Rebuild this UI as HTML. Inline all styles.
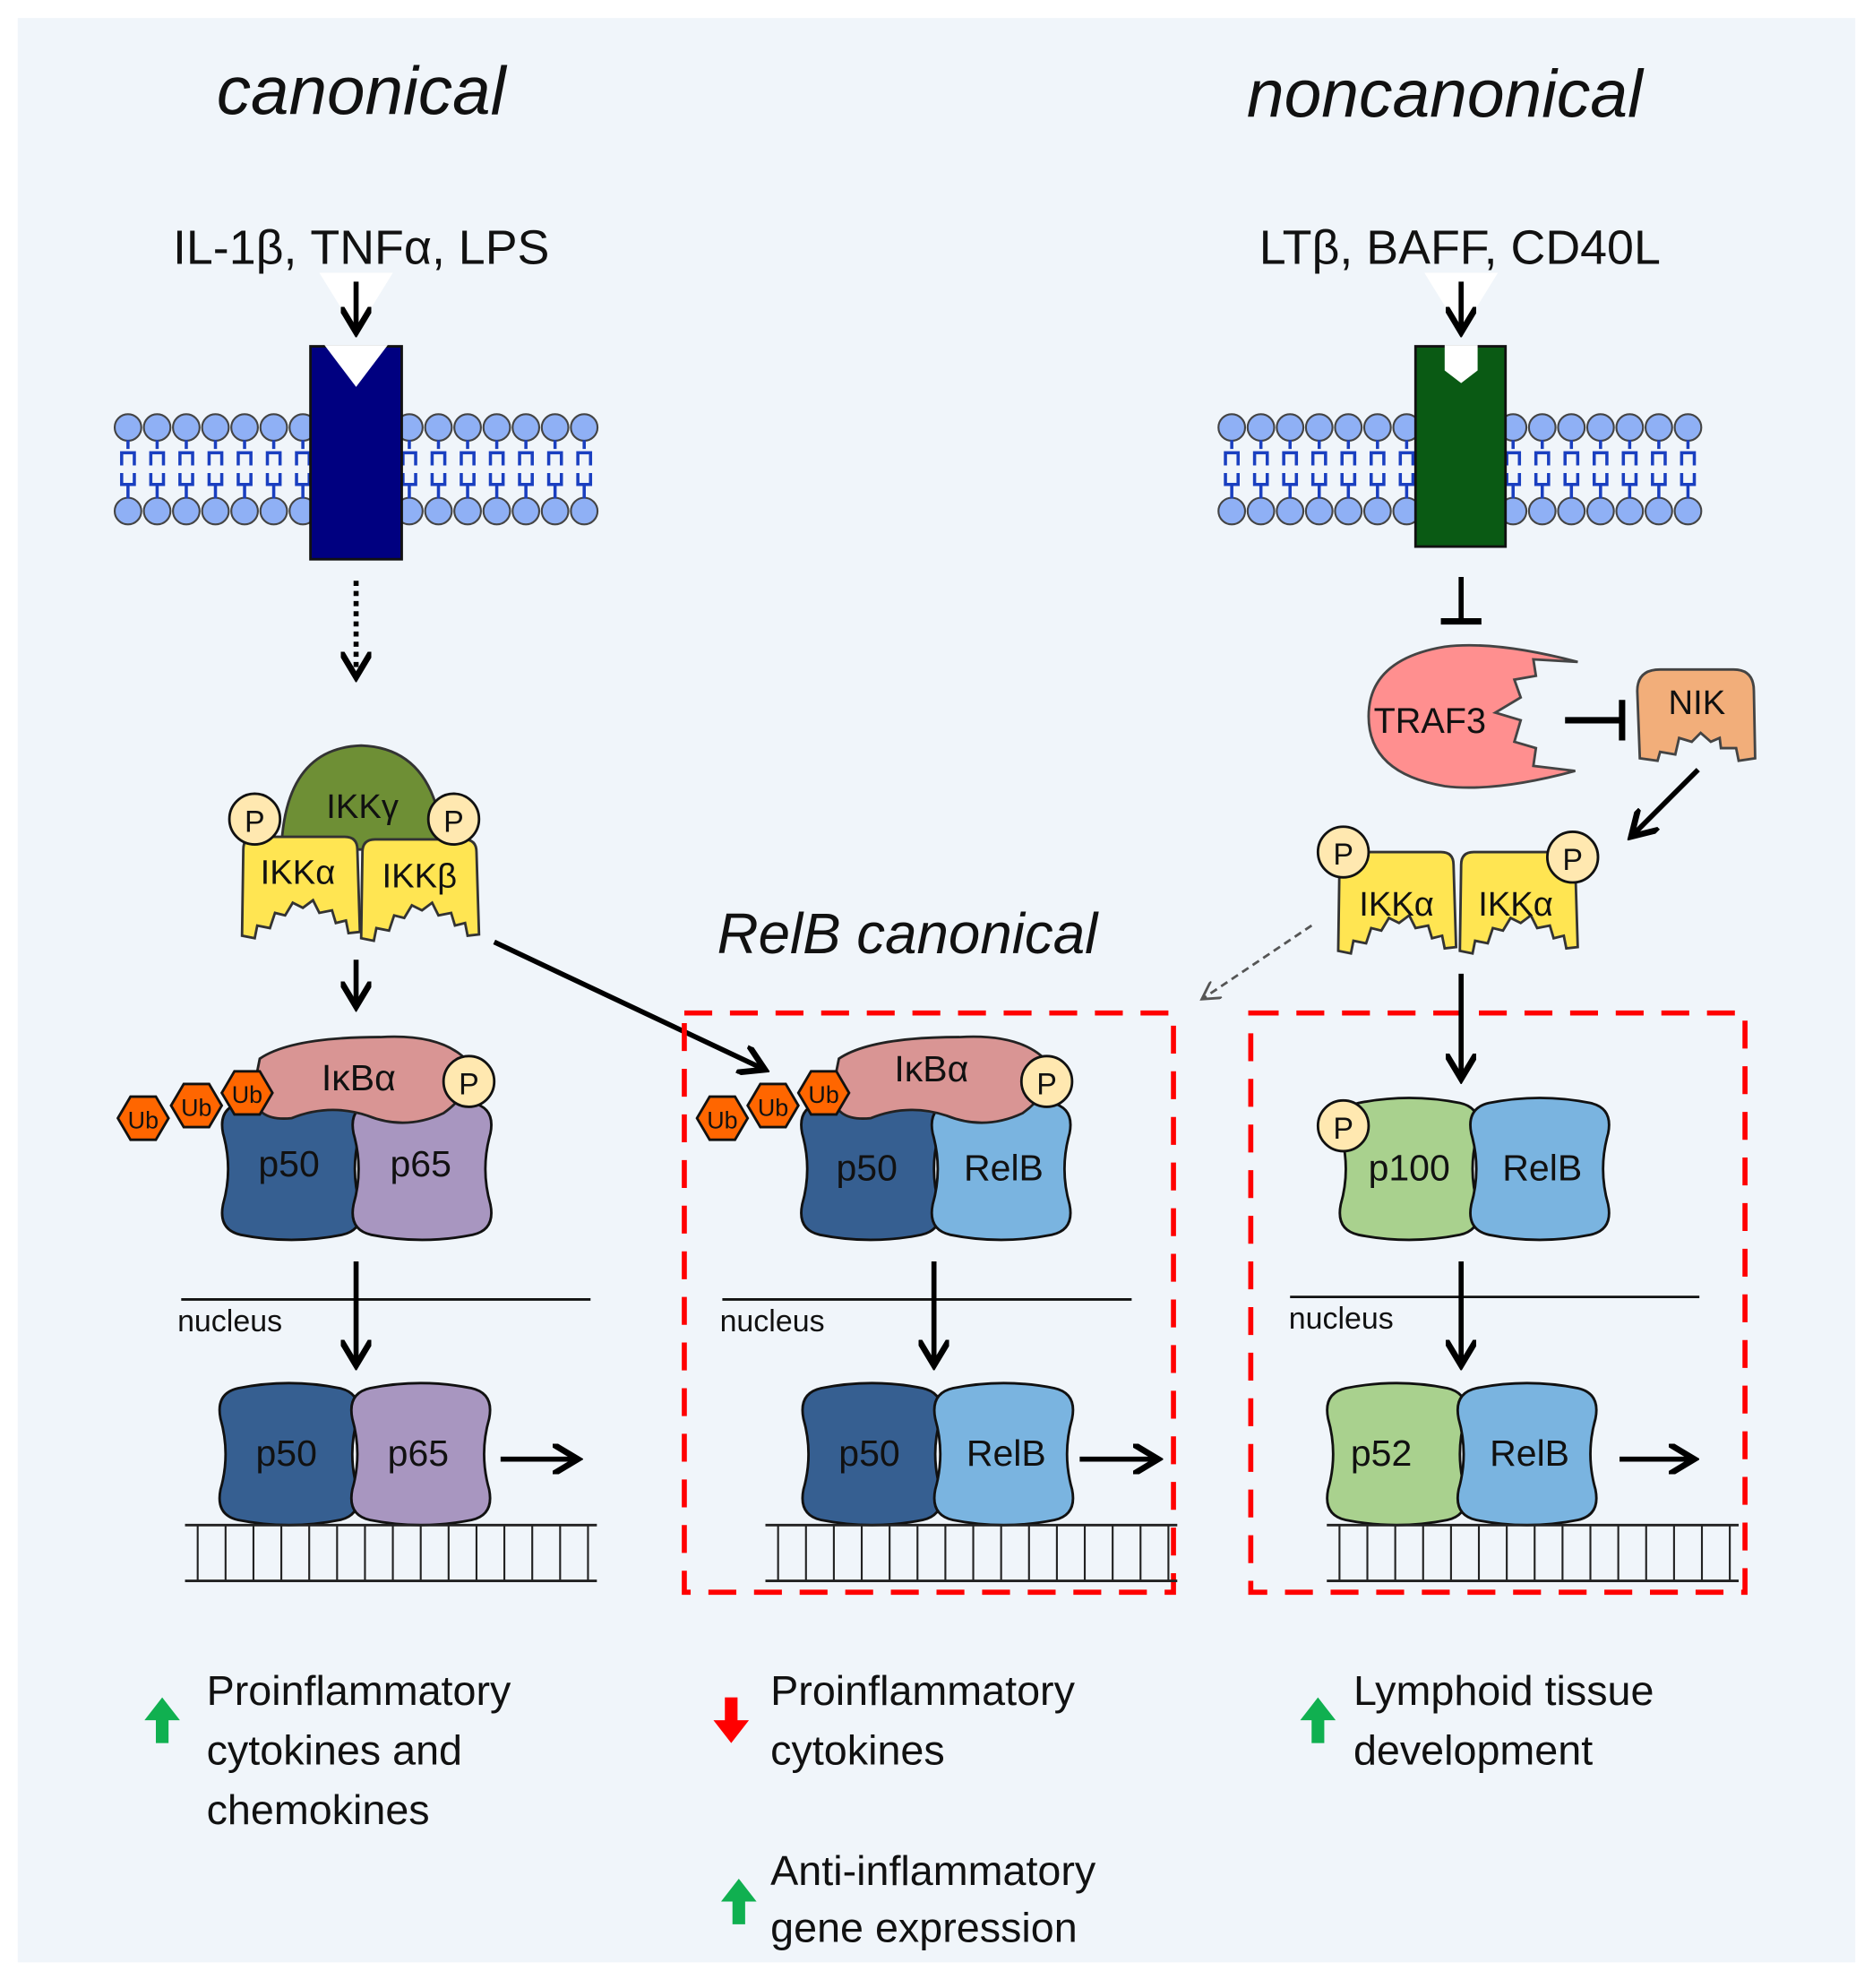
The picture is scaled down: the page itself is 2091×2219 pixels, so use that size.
<!DOCTYPE html>
<html><head><meta charset="utf-8"><style>
html,body{margin:0;padding:0;background:#fff}
svg{display:block}
text{font-family:"Liberation Sans","DejaVu Sans",sans-serif;fill:#111}
</style></head><body>
<svg width="2091" height="2219" viewBox="0 0 1478 1568" xmlns="http://www.w3.org/2000/svg">
<defs>
<marker id="ah" markerWidth="6" markerHeight="6" refX="4" refY="3" orient="auto" markerUnits="strokeWidth"><path d="M0,0 L5,3 L0,6" fill="none" stroke="#000" stroke-width="1.2"/></marker>
<marker id="ahs" markerWidth="8" markerHeight="8" refX="6" refY="4" orient="auto" markerUnits="strokeWidth"><path d="M0,0 L7,4 L0,8" fill="none" stroke="#555" stroke-width="1"/></marker>
<g id="lipid">
 <circle cx="0" cy="0" r="10.5" fill="#8fb0f5" stroke="#444" stroke-width="1.5"/>
 <circle cx="0" cy="66" r="10.5" fill="#8fb0f5" stroke="#444" stroke-width="1.5"/>
 <path d="M0,10 V17 M-5,30 V20 H5 V30 M-5,36 V45 H5 V36 M0,45 V56" stroke="#1a3fc0" stroke-width="2.5" fill="none"/>
</g>
<path id="lobe" d="M-40,-52 Q0,-60 40,-52 Q58,-48 54,-28 Q46,0 54,28 Q58,48 40,52 Q0,60 -40,52 Q-58,48 -54,28 Q-46,0 -54,-28 Q-58,-48 -40,-52 Z" stroke="#111" stroke-width="2"/>
<path id="ikk" d="M-45,-30 Q-45,-40 -35,-40 L35,-40 Q45,-40 45,-30 L47,35 L38,36 L36,26 L28,28 L25,18 L15,20 L10,10 L2,16 L-6,12 L-12,22 L-20,20 L-24,32 L-34,30 L-36,40 L-46,38 Z" fill="#ffe552" stroke="#333" stroke-width="2"/>
<path id="hex" d="M-20,0 L-10,-17 L10,-17 L20,0 L10,17 L-10,17 Z" fill="#ff6600" stroke="#111" stroke-width="2"/>
<circle id="pc" r="20" fill="#ffe8b0" stroke="#111" stroke-width="2"/>
<g id="dna">
 <path d="M0,0 H325 M0,44 H325" stroke="#222" stroke-width="2"/>
 <path d="M10,0 V44 M32,0 V44 M54,0 V44 M76,0 V44 M98,0 V44 M120,0 V44 M142,0 V44 M164,0 V44 M186,0 V44 M208,0 V44 M230,0 V44 M252,0 V44 M274,0 V44 M296,0 V44 M318,0 V44" stroke="#222" stroke-width="1.5"/>
</g>
<path id="up" d="M0,-18 L-14,0 L-5,0 L-5,18 L5,18 L5,0 L14,0 Z" fill="#10b050"/>
</defs>

<rect width="1478" height="1568" fill="#fff"/>
<rect x="14" y="14" width="1450" height="1534" fill="#f0f5fa"/>

<text x="285" y="90" font-size="54" font-style="italic" text-anchor="middle">canonical</text>
<text x="1140" y="92" font-size="53" font-style="italic" text-anchor="middle">noncanonical</text>
<text x="716" y="752" font-size="45" font-style="italic" text-anchor="middle">RelB canonical</text>
<text x="285" y="208" font-size="38" text-anchor="middle">IL-1β, TNFα, LPS</text>
<text x="1152" y="208" font-size="38" text-anchor="middle">LTβ, BAFF, CD40L</text>

<g>
<use href="#lipid" x="101" y="337"/><use href="#lipid" x="124" y="337"/><use href="#lipid" x="147" y="337"/><use href="#lipid" x="170" y="337"/><use href="#lipid" x="193" y="337"/><use href="#lipid" x="216" y="337"/><use href="#lipid" x="239" y="337"/>
<use href="#lipid" x="323" y="337"/><use href="#lipid" x="346" y="337"/><use href="#lipid" x="369" y="337"/><use href="#lipid" x="392" y="337"/><use href="#lipid" x="415" y="337"/><use href="#lipid" x="438" y="337"/><use href="#lipid" x="461" y="337"/>
<use href="#lipid" x="972" y="337"/><use href="#lipid" x="995" y="337"/><use href="#lipid" x="1018" y="337"/><use href="#lipid" x="1041" y="337"/><use href="#lipid" x="1064" y="337"/><use href="#lipid" x="1087" y="337"/><use href="#lipid" x="1110" y="337"/>
<use href="#lipid" x="1194" y="337"/><use href="#lipid" x="1217" y="337"/><use href="#lipid" x="1240" y="337"/><use href="#lipid" x="1263" y="337"/><use href="#lipid" x="1286" y="337"/><use href="#lipid" x="1309" y="337"/><use href="#lipid" x="1332" y="337"/>
</g>
<rect x="245" y="273" width="72" height="168" fill="#000080" stroke="#111" stroke-width="2"/>
<path d="M256,272 L306,272 L281,305 Z" fill="#fff"/>
<path d="M252,215 L310,215 L281,262 Z" fill="#fff"/>
<rect x="1117" y="273" width="71" height="158" fill="#0a5a14" stroke="#111" stroke-width="2"/>
<path d="M1140,272 L1166,272 L1166,292 L1153,302 L1140,292 Z" fill="#fff"/>
<path d="M1124,215 L1182,215 L1153,262 Z" fill="#fff"/>
<line x1="281" y1="222" x2="281" y2="258" stroke="#000" stroke-width="4" marker-end="url(#ah)"/>
<line x1="1153" y1="222" x2="1153" y2="258" stroke="#000" stroke-width="4" marker-end="url(#ah)"/>
<line x1="281" y1="458" x2="281" y2="530" stroke="#000" stroke-width="4" stroke-dasharray="4,4" marker-end="url(#ah)"/>

<path d="M222,670 Q225,590 285,588 Q345,590 350,670 Z" fill="#6e8f35" stroke="#333" stroke-width="2"/>
<text x="286" y="645" font-size="27" text-anchor="middle">IKKγ</text>
<use href="#ikk" x="237" y="700"/><use href="#ikk" x="331" y="702"/>
<text x="235" y="697" font-size="27" text-anchor="middle">IKKα</text>
<text x="331" y="700" font-size="27" text-anchor="middle">IKKβ</text>
<use href="#pc" x="201" y="646"/><text x="201" y="656" font-size="24" text-anchor="middle">P</text>
<use href="#pc" x="358" y="646"/><text x="358" y="656" font-size="24" text-anchor="middle">P</text>
<line x1="281" y1="757" x2="281" y2="790" stroke="#000" stroke-width="4" marker-end="url(#ah)"/>
<line x1="390" y1="743" x2="600" y2="842" stroke="#000" stroke-width="4" marker-end="url(#ah)"/>

<use href="#lobe" x="230" y="922" fill="#365f91"/>
<use href="#lobe" x="333" y="922" fill="#a896c0"/>
<path d="M205,835 Q230,818 300,818 Q350,815 370,838 Q375,860 350,878 Q320,892 290,880 Q260,870 230,882 Q200,885 200,860 Z" fill="#d99594" stroke="#222" stroke-width="2"/>
<text x="283" y="860" font-size="29" text-anchor="middle">IκBα</text>
<use href="#pc" x="370" y="853"/><text x="370" y="863" font-size="24" text-anchor="middle">P</text>
<use href="#hex" x="113" y="882"/><use href="#hex" x="155" y="872"/><use href="#hex" x="195" y="862"/>
<text x="113" y="890" font-size="19" text-anchor="middle">Ub</text><text x="155" y="880" font-size="19" text-anchor="middle">Ub</text><text x="195" y="870" font-size="19" text-anchor="middle">Ub</text>
<text x="228" y="928" font-size="29" text-anchor="middle">p50</text>
<text x="332" y="928" font-size="29" text-anchor="middle">p65</text>
<line x1="143" y1="1025" x2="466" y2="1025" stroke="#111" stroke-width="2"/>
<text x="140" y="1050" font-size="24">nucleus</text>
<line x1="281" y1="995" x2="281" y2="1073" stroke="#000" stroke-width="4" marker-end="url(#ah)"/>
<use href="#lobe" x="228" y="1147" fill="#365f91"/>
<use href="#lobe" x="332" y="1147" fill="#a896c0"/>
<text x="226" y="1156" font-size="29" text-anchor="middle">p50</text>
<text x="330" y="1156" font-size="29" text-anchor="middle">p65</text>
<line x1="395" y1="1151" x2="452" y2="1151" stroke="#000" stroke-width="4" marker-end="url(#ah)"/>
<use href="#dna" x="146" y="1203"/>

<rect x="540" y="799" width="386" height="457" fill="none" stroke="#f00" stroke-width="4" stroke-dasharray="22,14"/>
<use href="#lobe" x="687" y="922" fill="#365f91"/>
<use href="#lobe" x="790" y="922" fill="#7ab4e0"/>
<path d="M662,835 Q687,818 757,818 Q807,815 827,838 Q832,860 807,878 Q777,892 747,880 Q717,870 687,882 Q657,885 657,860 Z" fill="#d99594" stroke="#222" stroke-width="2"/>
<text x="735" y="853" font-size="29" text-anchor="middle">IκBα</text>
<use href="#pc" x="826" y="853"/><text x="826" y="863" font-size="24" text-anchor="middle">P</text>
<use href="#hex" x="570" y="882"/><use href="#hex" x="610" y="872"/><use href="#hex" x="650" y="862"/>
<text x="570" y="890" font-size="19" text-anchor="middle">Ub</text><text x="610" y="880" font-size="19" text-anchor="middle">Ub</text><text x="650" y="870" font-size="19" text-anchor="middle">Ub</text>
<text x="684" y="931" font-size="29" text-anchor="middle">p50</text>
<text x="792" y="931" font-size="29" text-anchor="middle">RelB</text>
<line x1="570" y1="1025" x2="893" y2="1025" stroke="#111" stroke-width="2"/>
<text x="568" y="1050" font-size="24">nucleus</text>
<line x1="737" y1="995" x2="737" y2="1073" stroke="#000" stroke-width="4" marker-end="url(#ah)"/>
<use href="#lobe" x="688" y="1147" fill="#365f91"/>
<use href="#lobe" x="792" y="1147" fill="#7ab4e0"/>
<text x="686" y="1156" font-size="29" text-anchor="middle">p50</text>
<text x="794" y="1156" font-size="29" text-anchor="middle">RelB</text>
<line x1="852" y1="1151" x2="910" y2="1151" stroke="#000" stroke-width="4" marker-end="url(#ah)"/>
<use href="#dna" x="604" y="1203"/>

<line x1="1153" y1="455" x2="1153" y2="490" stroke="#000" stroke-width="4"/>
<line x1="1137" y1="490" x2="1169" y2="490" stroke="#000" stroke-width="5"/>
<path d="M1245,522 Q1180,505 1140,510 Q1080,520 1080,565 Q1080,610 1140,620 Q1180,625 1243,608 L1210,604 L1212,590 L1195,585 L1200,568 L1180,562 L1200,550 L1195,536 L1212,533 L1210,520 Z" fill="#ff8f8f" stroke="#444" stroke-width="2"/>
<text x="1084" y="578" font-size="28">TRAF3</text>
<line x1="1235" y1="568" x2="1278" y2="568" stroke="#000" stroke-width="5"/>
<line x1="1280" y1="552" x2="1280" y2="584" stroke="#000" stroke-width="5"/>
<path d="M1292,545 Q1292,528 1310,528 L1368,528 Q1384,528 1384,545 L1385,598 L1372,600 L1370,590 L1358,590 L1357,582 L1350,585 L1342,578 L1335,585 L1325,582 L1322,595 L1310,593 L1308,600 L1294,598 Z" fill="#f2ae7a" stroke="#444" stroke-width="2"/>
<text x="1339" y="563" font-size="27" text-anchor="middle">NIK</text>
<line x1="1340" y1="607" x2="1290" y2="657" stroke="#000" stroke-width="4" marker-end="url(#ah)"/>
<use href="#ikk" x="1102" y="712"/><use href="#ikk" x="1198" y="712"/>
<text x="1102" y="722" font-size="27" text-anchor="middle">IKKα</text>
<text x="1196" y="722" font-size="27" text-anchor="middle">IKKα</text>
<use href="#pc" x="1060" y="672"/><text x="1060" y="682" font-size="24" text-anchor="middle">P</text>
<use href="#pc" x="1241" y="676"/><text x="1241" y="686" font-size="24" text-anchor="middle">P</text>
<line x1="1035" y1="730" x2="950" y2="787" stroke="#555" stroke-width="2" stroke-dasharray="6,4" marker-end="url(#ahs)"/>
<rect x="987" y="799" width="390" height="457" fill="none" stroke="#f00" stroke-width="4" stroke-dasharray="22,14"/>
<line x1="1153" y1="768" x2="1153" y2="847" stroke="#000" stroke-width="4" marker-end="url(#ah)"/>
<use href="#lobe" x="1112" y="922" fill="#a9d18e"/>
<use href="#lobe" x="1215" y="922" fill="#7ab4e0"/>
<use href="#pc" x="1060" y="888"/><text x="1060" y="898" font-size="24" text-anchor="middle">P</text>
<text x="1112" y="931" font-size="29" text-anchor="middle">p100</text>
<text x="1217" y="931" font-size="29" text-anchor="middle">RelB</text>
<line x1="1018" y1="1023" x2="1341" y2="1023" stroke="#111" stroke-width="2"/>
<text x="1017" y="1048" font-size="24">nucleus</text>
<line x1="1153" y1="995" x2="1153" y2="1073" stroke="#000" stroke-width="4" marker-end="url(#ah)"/>
<use href="#lobe" x="1102" y="1147" fill="#a9d18e"/>
<use href="#lobe" x="1205" y="1147" fill="#7ab4e0"/>
<text x="1090" y="1156" font-size="29" text-anchor="middle">p52</text>
<text x="1207" y="1156" font-size="29" text-anchor="middle">RelB</text>
<line x1="1278" y1="1151" x2="1333" y2="1151" stroke="#000" stroke-width="4" marker-end="url(#ah)"/>
<use href="#dna" x="1047" y="1203"/>

<use href="#up" x="128" y="1357"/>
<text font-size="33" x="163" y="1345">Proinflammatory</text>
<text font-size="33" x="163" y="1392">cytokines and</text>
<text font-size="33" x="163" y="1439">chemokines</text>
<path d="M577,1375 L563,1357 L572,1357 L572,1339 L582,1339 L582,1357 L591,1357 Z" fill="#f00"/>
<text font-size="33" x="608" y="1345">Proinflammatory</text>
<text font-size="33" x="608" y="1392">cytokines</text>
<use href="#up" x="583" y="1500"/>
<text font-size="33" x="608" y="1487">Anti-inflammatory</text>
<text font-size="33" x="608" y="1532">gene expression</text>
<use href="#up" x="1040" y="1357"/>
<text font-size="33" x="1068" y="1345">Lymphoid tissue</text>
<text font-size="33" x="1068" y="1392">development</text>
</svg>
</body></html>
